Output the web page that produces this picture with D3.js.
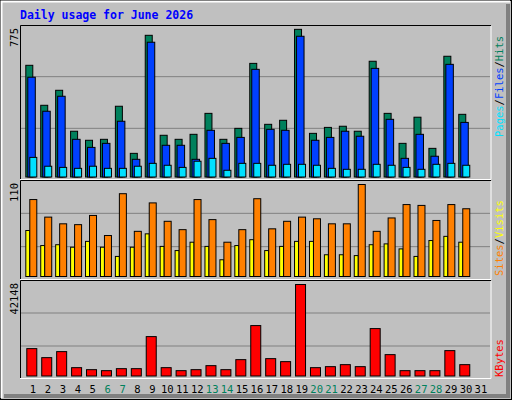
<!DOCTYPE html>
<html><head><meta charset="utf-8">
<script src="https://cdn.jsdelivr.net/npm/d3@7"></script>
<style>body{margin:0;background:#fff}</style>
</head><body>
<svg width="512" height="400"></svg>
<script>
var days = d3.range(1, 32);
var hits   = [581,373,451,238,191,196,368,123,737,217,196,222,331,196,253,591,274,295,768,227,258,264,238,602,331,175,311,149,628,326,0];
var files  = [519,342,420,196,154,175,290,92,701,165,165,92,243,175,206,560,248,243,732,191,206,238,212,565,300,97,222,108,586,284,0];
var pages  = [102,56,50,45,56,45,45,56,71,61,50,82,97,35,71,71,61,66,66,61,45,40,40,66,61,50,40,66,71,61,0];
var sites  = [55,37,38,35,42,35,24,35,51,36,31,41,36,20,37,44,31,36,42,42,26,26,25,38,39,33,24,43,48,41,0];
var visits = [92,71,63,62,73,49,99,54,88,66,56,92,68,41,56,93,57,66,71,69,63,63,110,54,70,86,85,67,86,81,0];
var kbytes = [12613,8460,11230,3845,2922,2461,3384,3384,18150,3845,2461,2922,4768,2922,7537,23226,7998,6614,42148,3845,4307,5230,4307,21842,9844,2461,2461,2461,11690,5230,0];
var weekend = [6,7,13,14,20,21,27,28];

var svg = d3.select('svg');
var font = 'DejaVu Sans Mono, monospace';

svg.append('rect').attr('width', 512).attr('height', 400).attr('fill', '#c0c0c0');
svg.append('rect').attr('x', 0.5).attr('y', 0.5).attr('width', 511).attr('height', 399).attr('fill', 'none').attr('stroke', '#000');
svg.append('path').attr('d', 'M1.5,398V1.5H510').attr('stroke', '#fff').attr('stroke-width', 2).attr('fill', 'none');
svg.append('path').attr('d', 'M508,4V396H4').attr('stroke', '#808080').attr('stroke-width', 4).attr('fill', 'none');

svg.append('text').attr('x', 20).attr('y', 19).attr('fill', '#0000ff')
  .attr('font-family', font).attr('font-weight', 'bold').attr('font-size', 11.5)
  .text('Daily usage for June 2026');

var x = d3.scaleBand().domain(days).range([25.3, 25.3 + 31 * 14.93]).paddingInner(0);

function panel(top, bottom) {
  svg.append('rect').attr('x', 20).attr('y', top).attr('width', 471).attr('height', bottom - top)
    .attr('fill', '#c0c0c0');
  var h = bottom - top;
  [1, 2].forEach(function (k) {
    svg.append('line').attr('x1', 21).attr('x2', 490)
      .attr('y1', top + h * k / 3).attr('y2', top + h * k / 3)
      .attr('stroke', '#808080').attr('stroke-width', 1);
  });
  svg.append('path').attr('d', 'M20.5,' + bottom + 'V' + (top + 0.5) + 'H491')
    .attr('stroke', '#000').attr('fill', 'none');
  svg.append('path').attr('d', 'M491,' + (top + 1) + 'V' + (bottom - 0.5) + 'H20')
    .attr('stroke', '#fff').attr('fill', 'none');
}
panel(25, 180);
panel(180, 280);
panel(280, 379);

function bars(data, y, dx, w, color) {
  svg.append('g').selectAll('rect').data(days.filter(function (d, i) { return data[i] > 0; }))
    .join('rect')
    .attr('x', function (d) { return x(d) + dx + 0.5; })
    .attr('y', function (d) { return y(data[d - 1]) + 0.5; })
    .attr('width', w)
    .attr('height', function (d) { return y(0) - y(data[d - 1]); })
    .attr('fill', color).attr('stroke', '#000').attr('stroke-width', 1);
}

var y1 = d3.scaleLinear().domain([0, 775]).range([176.5, 27.5]);
bars(hits, y1, 0, 7, '#00805c');
bars(files, y1, 2, 7.5, '#0040ff');
bars(pages, y1, 4, 7, '#00e0ff');

var y2 = d3.scaleLinear().domain([0, 110]).range([276, 184]);
bars(sites, y2, 0, 4, '#ffff00');
bars(visits, y2, 4, 7, '#ff8000');

var y3 = d3.scaleLinear().domain([0, 42148]).range([375.5, 284]);
bars(kbytes, y3, 1, 10, '#ff0000');

svg.append('g').selectAll('text').data(days).join('text')
  .attr('x', function (d) { return x(d) + 7.7; }).attr('y', 393)
  .attr('text-anchor', 'middle').attr('font-family', font).attr('font-size', 10.5)
  .attr('fill', function (d) { return weekend.indexOf(d) >= 0 ? '#00805c' : '#000'; })
  .text(function (d) { return d; });

function vlabel(xp, yp, txt, anchor) {
  svg.append('text').attr('transform', 'translate(' + xp + ',' + yp + ') rotate(-90)')
    .attr('text-anchor', anchor).attr('font-family', font).attr('font-size', 10.5)
    .attr('fill', '#000').text(txt);
}
vlabel(18, 28, '775', 'end');
vlabel(18, 183, '110', 'end');
vlabel(18, 283, '42148', 'end');

function rlabel(yp, parts) {
  var t = svg.append('text').attr('transform', 'translate(503,' + yp + ') rotate(-90)')
    .attr('font-family', font).attr('font-size', 10.5);
  parts.forEach(function (p) { t.append('tspan').attr('fill', p[1]).text(p[0]); });
}
rlabel(137, [['Pages', '#00e0ff'], ['/', '#000'], ['Files', '#0040ff'], ['/', '#000'], ['Hits', '#00805c']]);
rlabel(276, [['Sites', '#ff8000'], ['/', '#000'], ['Visits', '#ffff00']]);
rlabel(377, [['KBytes', '#ff0000']]);
</script>
</body></html>
